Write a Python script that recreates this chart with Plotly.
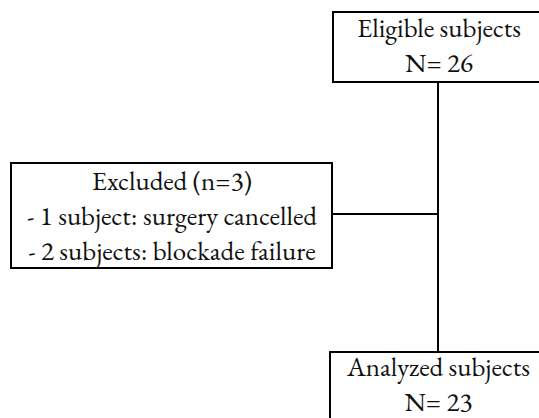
import plotly.graph_objects as go

# Flowchart content
node_names = ["eligible", "excluded", "analyzed"]
node_lines = [
    ["Eligible subjects", "N= 26"],
    ["Excluded (n=3)", "- 1 subject: surgery cancelled", "- 2 subjects: blockade failure"],
    ["Analyzed subjects", "N= 23"],
]

W, H = 539, 418
# layout geometry in pixel coordinates (x0, y0, x1, y1)
boxes = {
    "eligible": (333, 12, 545, 82),
    "excluded": (11, 163, 332, 268),
    "analyzed": (330, 352, 548, 430),
}
text_pos = {
    "eligible": (439, 45),
    "excluded": (172, 215),
    "analyzed": (438, 384),
}

FONT = dict(family="Garamond, 'EB Garamond', 'Liberation Serif', serif", size=27, color="#111111")
LW = 2

fig = go.Figure()
fig.add_trace(go.Scatter(x=[0, W], y=[0, H], mode="markers", marker=dict(opacity=0), hoverinfo="skip", showlegend=False))

shapes = []
for name in node_names:
    x0, y0, x1, y1 = boxes[name]
    shapes.append(dict(type="rect", xref="x", yref="y", x0=x0, y0=y0, x1=x1, y1=y1,
                       line=dict(color="black", width=LW), fillcolor="white", layer="below"))

# connectors
vx = 438
shapes.append(dict(type="line", xref="x", yref="y", x0=vx, y0=boxes["eligible"][3], x1=vx, y1=boxes["analyzed"][1],
                   line=dict(color="black", width=LW)))
shapes.append(dict(type="line", xref="x", yref="y", x0=boxes["excluded"][2], y0=214, x1=vx, y1=214,
                   line=dict(color="black", width=LW)))

annotations = []
for name, lines in zip(node_names, node_lines):
    cx, cy = text_pos[name]
    annotations.append(dict(x=cx, y=cy, xref="x", yref="y", text="<br>".join(lines), showarrow=False,
                            font=FONT, align="center", xanchor="center", yanchor="middle"))

fig.update_layout(
    width=W, height=H,
    margin=dict(l=0, r=0, t=0, b=0),
    paper_bgcolor="white", plot_bgcolor="white",
    shapes=shapes, annotations=annotations,
    xaxis=dict(range=[0, W], visible=False, fixedrange=True),
    yaxis=dict(range=[H, 0], visible=False, fixedrange=True),
    showlegend=False,
)

fig.write_html("out.html", config=dict(displayModeBar=False),
               post_script="document.body.style.margin='0';document.body.style.overflow='hidden';")
